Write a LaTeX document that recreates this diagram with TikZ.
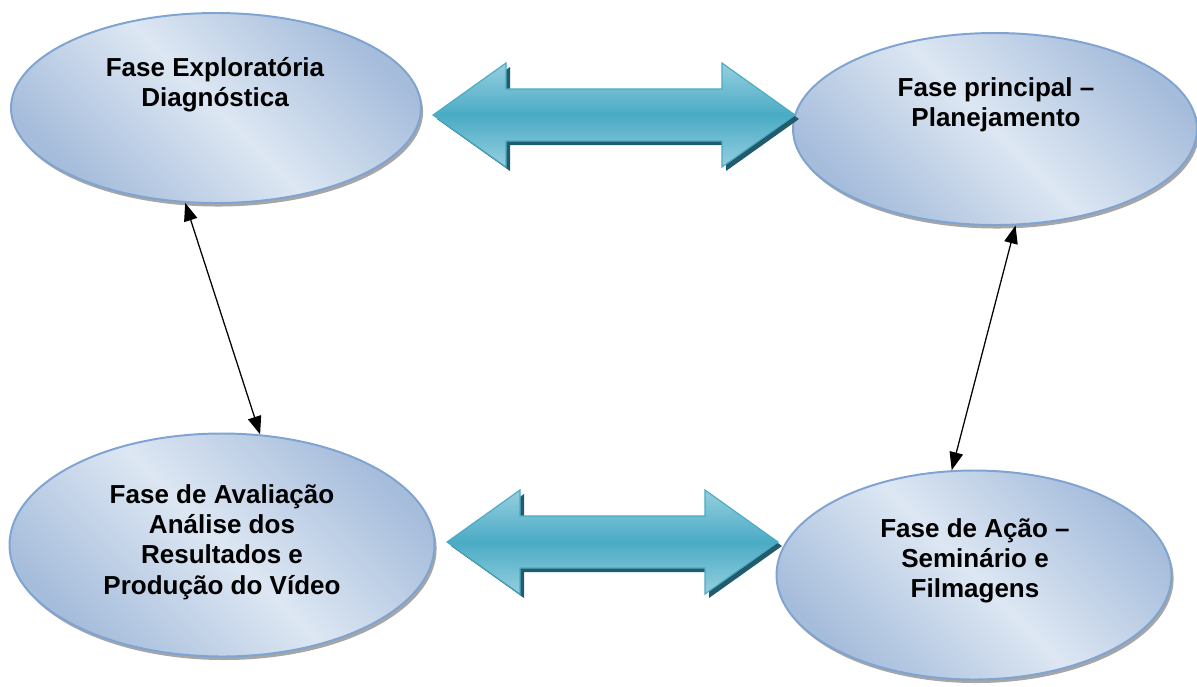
\documentclass[tikz,border=0pt]{standalone}
\usepackage{fontspec}
\setmainfont{Liberation Sans}
\usetikzlibrary{arrows.meta}
\usetikzlibrary{shapes.geometric,shadows}

\definecolor{elllight}{HTML}{DDE7F3}
\definecolor{elldark}{HTML}{A5BCDB}
\definecolor{ellborder}{HTML}{7FA4D2}
\definecolor{teal}{HTML}{4AABC5}
\definecolor{teallight}{HTML}{96CFDE}
\definecolor{tealdark}{HTML}{225B6B}

\tikzset{
  phase/.style={ellipse, draw=ellborder, line width=1.4pt,
    top color=elldark, bottom color=elldark, middle color=elllight, shading angle=-45,
    general shadow={shadow xshift=1.5pt, shadow yshift=-2.5pt, fill=black!35}},
  phasetext/.style={font=\bfseries\fontsize{18.5}{21.5}\selectfont, align=center},
  link/.style={<->, line width=0.9pt},
  bigbody/.style={top color=teallight, bottom color=teallight, middle color=teal, draw=teal, line width=0.8pt},
  bigshadow/.style={fill=tealdark}
}

% block double arrow: left tip x, right tip x, centre y
\newcommand{\arrowpath}[3]{(#1,#3) -- ++(73,-52) -- ++(0,26) -- (#2-73,#3-26) -- ++(0,-26) -- (#2,#3) -- ++(-73,52) -- ++(0,-26) -- (#1+73,#3+26) -- ++(0,26) -- cycle}

\begin{document}
\begin{tikzpicture}[x=0.025cm, y=-0.025cm, >={Triangle[length=0.45cm, width=0.34cm]}]
  \useasboundingbox (0,0) rectangle (1197,686);

  \node[phase, minimum width=410*0.025cm, minimum height=190*0.025cm] (explo) at (216,108) {};
  \node[phase, minimum width=404*0.025cm, minimum height=192*0.025cm] (plan) at (995,129) {};
  \node[phase, minimum width=425*0.025cm, minimum height=223*0.025cm] (aval) at (222,545) {};
  \node[phase, minimum width=395*0.025cm, minimum height=209*0.025cm] (acao) at (974,575) {};

  \node[phasetext] (explotext) at (215,85) {Fase Exploratória\\Diagnóstica};
  \node[phasetext] (plantext) at (996,105) {Fase principal –\\Planejamento};
  \node[phasetext] (avaltext) at (222,542) {Fase de Avaliação\\Análise dos\\Resultados e\\Produção do Vídeo};
  \node[phasetext] (acaotext) at (975,561) {Fase de Ação –\\Seminário e\\Filmagens};

  % big arrows
  \fill[bigshadow] [shift={(4,4)}] \arrowpath{433}{795}{115};
  \shade[bigbody] \arrowpath{433}{795}{115};
  \fill[bigshadow] [shift={(4,4)}] \arrowpath{447}{778}{542};
  \shade[bigbody] \arrowpath{447}{778}{542};

  % thin arrows
  \draw[link] (explo.-108) -- (aval.71);
  \draw[link] (plan.-78) -- (acao.102);

\end{tikzpicture}
\end{document}
